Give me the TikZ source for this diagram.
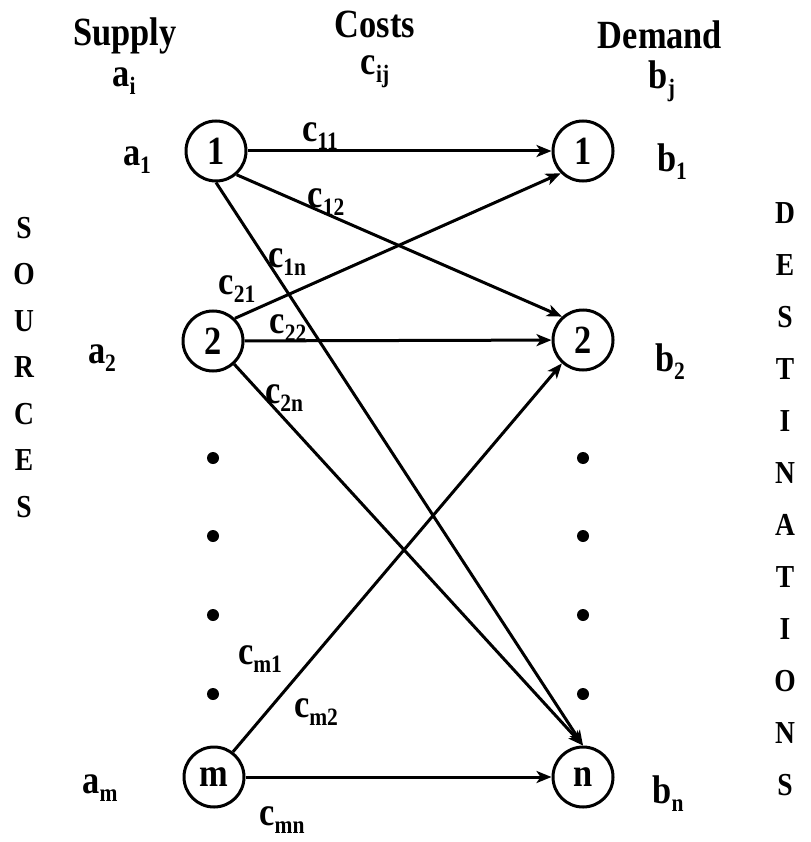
\documentclass[tikz,border=0pt]{standalone}
\usepackage{fontspec}
\setmainfont{Liberation Serif}[FakeStretch=0.86]
\usetikzlibrary{arrows.meta}
\newcommand\sbx[2]{#1\raisebox{-8pt}{\fontsize{25}{25}\selectfont #2}}
\begin{document}
\begin{tikzpicture}[x=1pt,y=-1pt,
  every node/.style={font=\fontsize{40}{44}\selectfont\bfseries},
  vert/.style={circle,draw,line width=3pt,minimum size=60pt,inner sep=0pt},
  conn/.style={line width=3pt,-{Stealth[length=15pt,width=12pt,inset=4pt]}},
  lab/.style={inner sep=0pt},
  dotn/.style={circle,fill,minimum size=12pt,inner sep=0pt},
  vletter/.style={inner sep=0pt,font=\fontsize{32}{34}\selectfont\bfseries}]
\useasboundingbox (0,0) rectangle (810,842);
% headings
\node[lab] (hs) at (125,36) {Supply};
\node[lab] (hc) at (375,24) {Costs};
\node[lab] (hd) at (660,35) {Demand};
\node[lab] (ai) at (124,81) {\sbx{a}{i}};
\node[lab] (cij) at (375,72) {\sbx{c}{ij}};
\node[lab] (bj) at (662,81) {\sbx{b}{j}};
% vertices
\node[vert] (s1) at (216,151) {1};
\node[vert] (s2) at (213,341) {2};
\node[vert] (sm) at (214,777) {m};
\node[vert] (d1) at (583,151) {1};
\node[vert] (d2) at (583,340) {2};
\node[vert] (dn) at (583,777) {n};
% side labels
\node[lab] (a1) at (137,160) {\sbx{a}{1}};
\node[lab] (a2) at (102,358) {\sbx{a}{2}};
\node[lab] (am) at (100,788) {\sbx{a}{m}};
\node[lab] (b1) at (672,162) {\sbx{b}{1}};
\node[lab] (b2) at (670,362) {\sbx{b}{2}};
\node[lab] (bn) at (668,794) {\sbx{b}{n}};
% edges
\draw[conn] (s1) -- (d1);
\draw[conn] (s1.-49) -- (d2.132);
\draw[conn] (s1.south) -- (dn.north);
\draw[conn] (s2.46) -- (d1.-135);
\draw[conn] (s2) -- (d2);
\draw[conn] (s2) -- (dn.north);
\draw[conn] (sm.53) -- (d2.-132);
\draw[conn] (sm) -- (dn);
% cost labels
\node[lab] (c11) at (320,136) {\sbx{c}{11}};
\node[lab] (c12) at (326,202) {\sbx{c}{12}};
\node[lab] (c1n) at (287,262) {\sbx{c}{1n}};
\node[lab] (c21) at (237,289) {\sbx{c}{21}};
\node[lab] (c22) at (288,328) {\sbx{c}{22}};
\node[lab] (c2n) at (284,398) {\sbx{c}{2n}};
\node[lab] (cm1) at (260,659) {\sbx{c}{m1}};
\node[lab] (cm2) at (316,712) {\sbx{c}{m2}};
\node[lab] (cmn) at (282,820) {\sbx{c}{mn}};
% dots
\foreach \i/\y in {1/458,2/536,3/615,4/694}{
  \node[dotn] (ld\i) at (213,\y) {};
  \node[dotn] (rd\i) at (583,\y) {};
}
% vertical words
\foreach \ch [count=\k] in {S,O,U,R,C,E,S}{
  \node[vletter] (sl\k) at (24,{228+46.5*(\k-1)}) {\ch};
}
\foreach \ch [count=\k] in {D,E,S,T,I,N,A,T,I,O,N,S}{
  \node[vletter] (dl\k) at (785,{213+52*(\k-1)}) {\ch};
}
\end{tikzpicture}
\end{document}
